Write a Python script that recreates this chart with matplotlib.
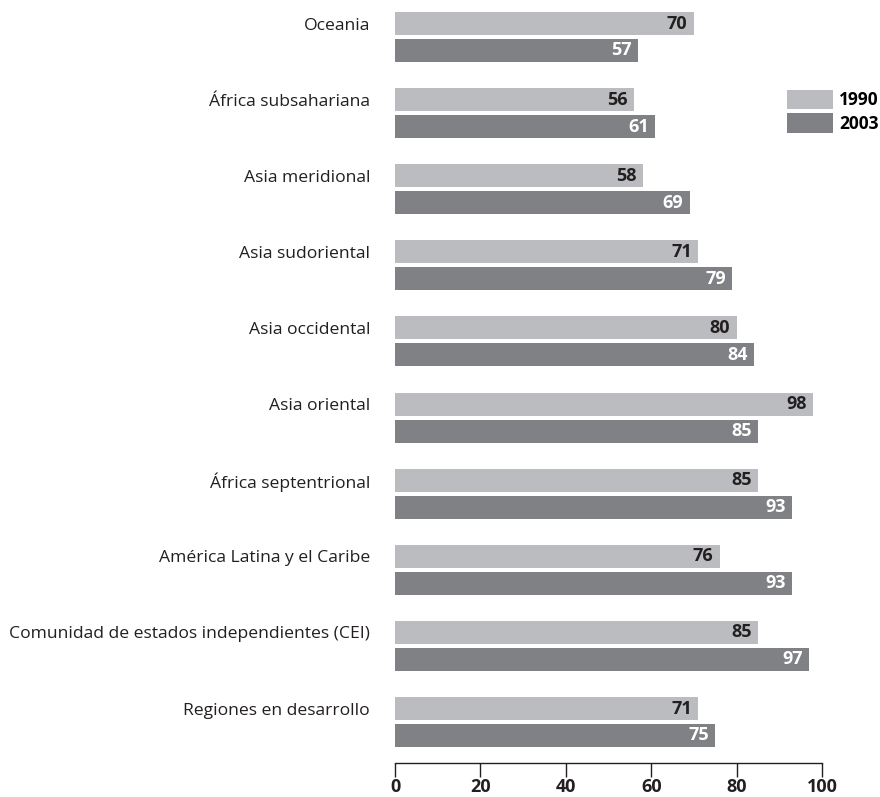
import numpy as np
import matplotlib
matplotlib.use("Agg")
import matplotlib.pyplot as plt

plt.rcParams['font.family'] = ['Open Sans', 'DejaVu Sans']

# regiones y porcentajes
regiones = [
    "Oceania",
    "África subsahariana",
    "Asia meridional",
    "Asia sudoriental",
    "Asia occidental",
    "Asia oriental",
    "África septentrional",
    "América Latina y el Caribe",
    "Comunidad de estados independientes (CEI)",
    "Regiones en desarrollo",
]
v1990 = [70, 56, 58, 71, 80, 98, 85, 76, 85, 71]
v2003 = [57, 61, 69, 79, 84, 85, 93, 93, 97, 75]
anios = ["1990", "2003"]

c1990 = "#bbbcbf"
c2003 = "#808184"
negro = "#231f20"

W, H = 880, 797
fig = plt.figure(figsize=(W / 100, H / 100), dpi=100)
ax = fig.add_axes([395 / W, 1 - 763 / H, (822 - 395) / W, 763 / H])

y = np.arange(len(regiones))
off = 0.177
bh = 0.302
b1 = ax.barh(y - off, v1990, height=bh, color=c1990, label=anios[0])
b2 = ax.barh(y + off, v2003, height=bh, color=c2003, label=anios[1])

# valores dentro de cada barra, alineados a la derecha
for bar, v in zip(b1, v1990):
    ax.text(v - 1.5, bar.get_y() + bar.get_height() / 2, str(v),
            ha="right", va="center", fontsize=13, fontweight="bold", color=negro)
for bar, v in zip(b2, v2003):
    ax.text(v - 1.5, bar.get_y() + bar.get_height() / 2, str(v),
            ha="right", va="center", fontsize=13, fontweight="bold", color="white")

ax.set_xlim(0, 100)
ax.set_ylim(9 + 41 / 76.1, -37 / 76.1)
ax.set_xticks(range(0, 101, 20))
ax.set_yticks(y - off)
ax.set_yticklabels(regiones, fontsize=12.6, color=negro)
ax.tick_params(axis="y", length=0, pad=18)
ax.tick_params(axis="x", length=10, width=1, color=negro, pad=1,
               labelsize=13, labelcolor=negro)
for t in ax.get_xticklabels():
    t.set_fontweight("bold")

for s in ["top", "right", "left"]:
    ax.spines[s].set_visible(False)
ax.spines["bottom"].set_color(negro)
ax.spines["bottom"].set_linewidth(1)

fs = 12.5 * 100 / 72
ax.legend(loc="upper left", bbox_to_anchor=(787 / W, 1 - 90 / H),
          bbox_transform=fig.transFigure, frameon=False, borderpad=0,
          borderaxespad=0, handlelength=46 / fs, handleheight=23 / fs,
          handletextpad=6 / fs, labelspacing=4 / fs,
          prop={"weight": "bold", "size": 12.5})

fig.savefig("out.png", dpi=100)
